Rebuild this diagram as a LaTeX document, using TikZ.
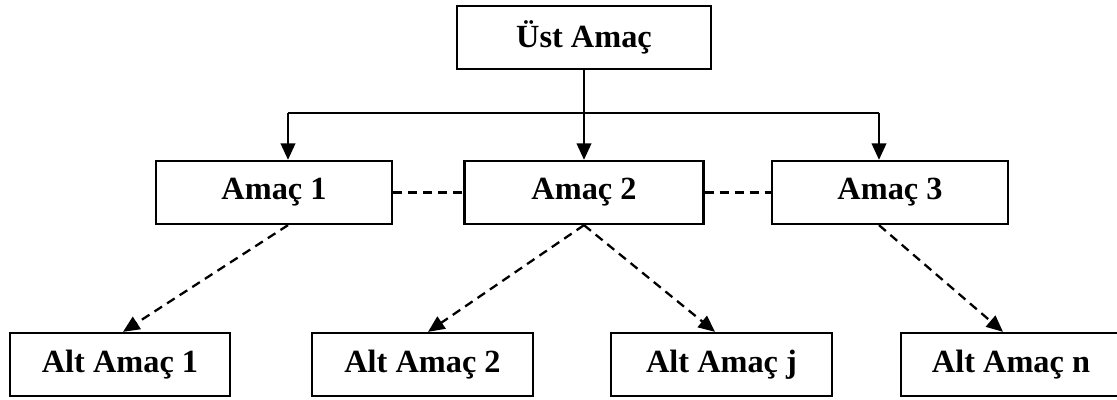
\documentclass[tikz,border=0pt]{standalone}
\usepackage{fontspec}
\setmainfont{Liberation Serif}
\usepackage{tikz}
\usetikzlibrary{arrows.meta, calc}

\begin{document}
\begin{tikzpicture}[
    goal/.style={rectangle, draw, line width=1.3pt, inner sep=0pt,
        minimum height=1.26cm, font=\fontsize{18.4}{20}\selectfont\bfseries},
    arr/.style={line width=1.3pt, -{Triangle[width=0.29cm, length=0.33cm]}},
    darr/.style={arr, dash pattern=on 0.18cm off 0.12cm},
    dline/.style={line width=1.3pt, dash pattern=on 0.18cm off 0.12cm}
]
    \clip (0,0) rectangle (22.34,-8);

    % top goal
    \node[goal, minimum width=5.08cm] (ust) at (11.68,-0.75) {Üst Amaç};

    % goals
    \node[goal, minimum width=4.72cm] (amac1) at (5.48,-3.85) {Amaç 1};
    \node[goal, minimum width=4.78cm] (amac2) at (11.68,-3.85) {Amaç 2};
    \node[goal, minimum width=4.72cm] (amac3) at (17.80,-3.85) {Amaç 3};

    % sub goals
    \node[goal, minimum width=4.40cm] (alt1) at (2.40,-7.29) {Alt Amaç 1};
    \node[goal, minimum width=4.42cm] (alt2) at (8.45,-7.29) {Alt Amaç 2};
    \node[goal, minimum width=4.42cm] (altj) at (14.43,-7.29) {Alt Amaç j};
    \node[goal, minimum width=4.40cm] (altn) at (20.22,-7.29) {Alt Amaç n};

    \coordinate (busL) at (5.76,-2.254);
    \coordinate (busR) at (17.58,-2.254);

    \draw[arr] (ust.south) -- (amac2.north);
    \draw[line width=1.3pt] (busL) -- (busR);
    \draw[arr] (busL) -- (busL |- amac1.north);
    \draw[arr] (busR) -- (busR |- amac3.north);

    \draw[dline] (amac1.east) -- (amac2.west);
    \draw[dline] (amac2.east) -- (amac3.west);

    \draw[darr] (busL |- amac1.south) -- ($(alt1.north)+(0.06,0)$);
    \draw[darr] (amac2.south) -- ($(alt2.north)+(0.11,0)$);
    \draw[darr] (amac2.south) -- ($(altj.north)+(-0.13,0)$);
    \draw[darr] (busR |- amac3.south) -- ($(altn.north)+(-0.16,0)$);
\end{tikzpicture}
\end{document}
